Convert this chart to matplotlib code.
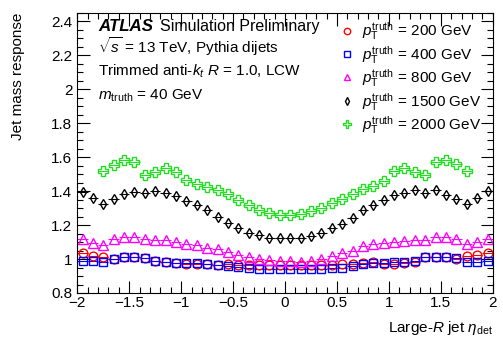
import matplotlib
matplotlib.use("Agg")
import matplotlib.pyplot as plt
from matplotlib.ticker import MultipleLocator
from matplotlib.lines import Line2D

plt.rcParams['font.family'] = ['Liberation Sans', 'DejaVu Sans']
plt.rcParams['mathtext.fontset'] = 'custom'
plt.rcParams['mathtext.rm'] = 'Liberation Sans'
plt.rcParams['mathtext.it'] = 'Liberation Sans:italic'
plt.rcParams['mathtext.bf'] = 'Liberation Sans:bold'

eta = [-1.95, -1.85, -1.75, -1.65, -1.55, -1.45, -1.35, -1.25, -1.15, -1.05,
       -0.95, -0.85, -0.75, -0.65, -0.55, -0.45, -0.35, -0.25, -0.15, -0.05,
       0.05, 0.15, 0.25, 0.35, 0.45, 0.55, 0.65, 0.75, 0.85, 0.95,
       1.05, 1.15, 1.25, 1.35, 1.45, 1.55, 1.65, 1.75, 1.85, 1.95]
eta_green = eta[2:38]

resp_200 = [1.033, 1.019, 1.013, 1.000, 1.012, 1.013, 1.004, 0.990, 0.980, 0.976,
            0.971, 0.970, 0.968, 0.966, 0.968, 0.964, 0.965, 0.963, 0.963, 0.964,
            0.964, 0.964, 0.964, 0.965, 0.966, 0.969, 0.971, 0.976, 0.980, 0.972,
            0.971, 0.974, 0.984, 1.010, 1.013, 1.010, 1.000, 1.019, 1.025, 1.035]
resp_400 = [0.990, 0.988, 0.984, 1.000, 1.013, 1.013, 1.004, 0.986, 0.980, 0.976,
            0.974, 0.976, 0.971, 0.967, 0.957, 0.951, 0.945, 0.941, 0.941, 0.941,
            0.941, 0.941, 0.941, 0.941, 0.945, 0.945, 0.961, 0.971, 0.976, 0.976,
            0.980, 0.984, 0.990, 1.010, 1.015, 1.015, 1.004, 0.980, 0.984, 0.990]
resp_800 = [1.117, 1.097, 1.084, 1.121, 1.132, 1.132, 1.117, 1.111, 1.111, 1.101,
            1.088, 1.082, 1.068, 1.058, 1.039, 1.023, 1.010, 1.000, 0.992, 0.988,
            0.988, 0.985, 0.988, 1.000, 1.019, 1.035, 1.049, 1.078, 1.086, 1.094,
            1.101, 1.107, 1.111, 1.111, 1.131, 1.132, 1.117, 1.088, 1.101, 1.117]
resp_1500 = [1.396, 1.357, 1.326, 1.351, 1.381, 1.396, 1.390, 1.402, 1.392, 1.371,
             1.345, 1.318, 1.287, 1.250, 1.211, 1.185, 1.152, 1.140, 1.127, 1.122,
             1.123, 1.127, 1.136, 1.156, 1.181, 1.205, 1.244, 1.287, 1.316, 1.347,
             1.378, 1.390, 1.404, 1.390, 1.404, 1.375, 1.351, 1.326, 1.357, 1.400]
resp_2000 = [1.517, 1.552, 1.581, 1.569, 1.498, 1.511, 1.536, 1.511,
             1.468, 1.445, 1.425, 1.406, 1.381, 1.347, 1.316, 1.289, 1.269, 1.258,
             1.258, 1.263, 1.283, 1.302, 1.331, 1.351, 1.381, 1.413, 1.429, 1.462,
             1.517, 1.536, 1.511, 1.498, 1.571, 1.581, 1.560, 1.517]

labels = [r"$p_{\mathrm{T}}^{\mathrm{truth}}$ = 200 GeV",
          r"$p_{\mathrm{T}}^{\mathrm{truth}}$ = 400 GeV",
          r"$p_{\mathrm{T}}^{\mathrm{truth}}$ = 800 GeV",
          r"$p_{\mathrm{T}}^{\mathrm{truth}}$ = 1500 GeV",
          r"$p_{\mathrm{T}}^{\mathrm{truth}}$ = 2000 GeV"]

fig = plt.figure(figsize=(5.03, 3.42), dpi=100)
ax = fig.add_axes([0.1537, 0.1433, 0.8259, 0.8187])

series = [
    (eta, resp_200, '#ff0000', 'o', 6.3, 4.6),
    (eta, resp_400, '#0000ff', 's', 5.8, 4.3),
    (eta, resp_800, '#ff00ff', '^', 6.5, 5.0),
    (eta, resp_1500, '#000000', 'd', 5.2, 4.2),
    (eta_green, resp_2000, '#22dd22', 'P', 7.8, 5.8),
]
handles = []
for (x, y, c, m, ms, lms) in series:
    ax.errorbar(x, y, xerr=0.05, fmt=m, color=c, ecolor=c, elinewidth=0.8,
                capsize=0, markersize=ms, markerfacecolor='none',
                markeredgecolor=c, markeredgewidth=1.0)
    handles.append(Line2D([], [], linestyle='none', marker=m, markersize=lms,
                          markerfacecolor='none', markeredgecolor=c, markeredgewidth=1.0))

ax.set_xlim(-2, 2)
ax.set_ylim(0.8, 2.45)
ax.set_xticks([-2, -1.5, -1, -0.5, 0, 0.5, 1, 1.5, 2])
ax.set_xticklabels(["\u22122", "\u22121.5", "\u22121", "\u22120.5", "0", "0.5", "1", "1.5", "2"])
ax.set_yticks([0.8, 1.0, 1.2, 1.4, 1.6, 1.8, 2.0, 2.2, 2.4])
ax.set_yticklabels(["0.8", "1", "1.2", "1.4", "1.6", "1.8", "2", "2.2", "2.4"])
ax.xaxis.set_minor_locator(MultipleLocator(0.1))
ax.yaxis.set_minor_locator(MultipleLocator(0.05))
ax.tick_params(which='both', direction='in', top=True, right=True, labelsize=11)
ax.tick_params(which='major', length=9, width=0.8)
ax.tick_params(which='minor', length=4.5, width=0.8)
ax.tick_params(axis='x', pad=2.0)
ax.tick_params(axis='y', pad=3.5)
for s in ax.spines.values():
    s.set_linewidth(0.8)

ax.set_ylabel("Jet mass response", fontsize=11, loc='top', labelpad=19)
ax.set_xlabel(r"Large-$R$ jet $\eta_{\mathrm{det}}$", fontsize=11, loc='right', labelpad=7)

tx = 0.05
ax.text(tx, 0.935, "ATLAS", transform=ax.transAxes, fontsize=12.2,
        fontweight='bold', style='italic', va='baseline')
ax.text(tx + 0.15, 0.935, "Simulation Preliminary", transform=ax.transAxes, fontsize=11.5, va='baseline')
ax.text(tx, 0.857, r"$\sqrt{s}$ = 13 TeV, Pythia dijets", transform=ax.transAxes, fontsize=11, va='baseline')
ax.text(tx, 0.775, r"Trimmed anti-$k_{t}$ $R$ = 1.0, LCW", transform=ax.transAxes, fontsize=11, va='baseline')
ax.text(tx, 0.69, r"$m_{\mathrm{truth}}$ = 40 GeV", transform=ax.transAxes, fontsize=11, va='baseline')

leg = ax.legend(handles=handles, labels=labels, loc='upper right', bbox_to_anchor=(0.998, 1.012),
                frameon=False, fontsize=11, handlelength=0.9, handletextpad=0.5,
                labelspacing=0.1, borderaxespad=0.3)

fig.savefig("out.png", dpi=100)
